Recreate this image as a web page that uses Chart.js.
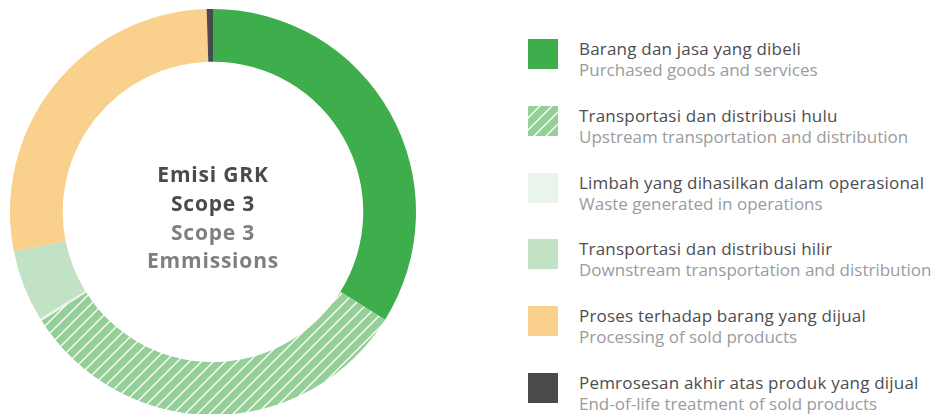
<!DOCTYPE html>
<html>
<head>
<meta charset="utf-8">
<script src="https://cdn.jsdelivr.net/npm/chart.js@4"></script>
<style>
  html, body { margin: 0; padding: 0; background: #fff; overflow: hidden; }
  body { width: 934px; height: 414px; position: relative; font-family: 'Open Sans', sans-serif; }
  #chartWrap { position: absolute; left: 0; top: -1px; width: 426px; height: 426px; }
  #legend { position: absolute; left: 528px; top: 0; }
  .row { position: absolute; left: 0; width: 406px; height: 60px; }
  .row canvas { position: absolute; left: 0; top: 0; }
  .txt { position: absolute; left: 51px; top: -1px; font-size: 17px; line-height: 21px; white-space: nowrap; }
  .l1 { color: #4d4d4f; letter-spacing: 0.2px; }
  .l2 { color: #9b9b9d; }
</style>
</head>
<body>
<div id="chartWrap"><canvas id="donut" width="426" height="426"></canvas></div>
<div id="legend"></div>
<script>
const labelsId = [
  'Barang dan jasa yang dibeli',
  'Transportasi dan distribusi hulu',
  'Limbah yang dihasilkan dalam operasional',
  'Transportasi dan distribusi hilir',
  'Proses terhadap barang yang dijual',
  'Pemrosesan akhir atas produk yang dijual'
];
const labelsEn = [
  'Purchased goods and services',
  'Upstream transportation and distribution',
  'Waste generated in operations',
  'Downstream transportation and distribution',
  'Processing of sold products',
  'End-of-life treatment of sold products'
];
const shares = [33.9, 32.1, 0.2, 5.7, 27.6, 0.5];
const colors = ['#3dae4b', '#94cf98', '#e9f4eb', '#c1e2c5', '#f9d08c', '#4a4a4c'];
const hatched = [false, true, false, false, false, false];
const centerLines = ['Emisi GRK', 'Scope 3', 'Scope 3', 'Emmissions'];
const centerColors = ['#4a4a4c', '#4a4a4c', '#7f7f82', '#7f7f82'];

function makeHatch(base) {
  const s = 12;
  const c = document.createElement('canvas');
  c.width = s; c.height = s;
  const g = c.getContext('2d');
  g.fillStyle = base;
  g.fillRect(0, 0, s, s);
  g.strokeStyle = '#ffffff';
  g.lineWidth = 1.3;
  g.beginPath();
  g.moveTo(-2, s + 2); g.lineTo(s + 2, -2);
  g.moveTo(-2, 2); g.lineTo(2, -2);
  g.moveTo(s - 2, s + 2); g.lineTo(s + 2, s - 2);
  g.stroke();
  return g.createPattern(c, 'repeat');
}

function fillFor(i) {
  return hatched[i] ? makeHatch(colors[i]) : colors[i];
}

const centerText = {
  id: 'centerText',
  afterDraw(chart) {
    const { ctx } = chart;
    const meta = chart.getDatasetMeta(0).data[0];
    const cx = meta.x, cy = meta.y;
    ctx.save();
    ctx.font = 'bold 21px "Open Sans", sans-serif';
    ctx.letterSpacing = '0.8px';
    ctx.textAlign = 'center';
    ctx.textBaseline = 'alphabetic';
    const base0 = cy - 30;
    centerLines.forEach((t, i) => {
      ctx.fillStyle = centerColors[i];
      ctx.fillText(t, cx, base0 + i * 28.8);
    });
    ctx.restore();
  }
};

const ctx = document.getElementById('donut').getContext('2d');
new Chart(ctx, {
  type: 'doughnut',
  data: {
    labels: labelsId,
    datasets: [{
      data: shares,
      backgroundColor: shares.map((_, i) => fillFor(i)),
      borderWidth: 0,
      hoverOffset: 0
    }]
  },
  options: {
    responsive: false,
    animation: false,
    cutout: '74%',
    layout: { padding: 10 },
    plugins: {
      legend: { display: false },
      tooltip: { enabled: false }
    }
  },
  plugins: [centerText]
});

// legend built from the same arrays
const legend = document.getElementById('legend');
labelsId.forEach((lab, i) => {
  const row = document.createElement('div');
  row.className = 'row';
  row.style.top = (39 + i * 66.8) + 'px';
  const sw = document.createElement('canvas');
  sw.width = 30; sw.height = 30;
  const sctx = sw.getContext('2d');
  sctx.fillStyle = fillFor(i);
  sctx.fillRect(0, 0, 30, 30);
  row.appendChild(sw);
  const txt = document.createElement('div');
  txt.className = 'txt';
  txt.innerHTML = '<div class="l1">' + lab + '</div><div class="l2">' + labelsEn[i] + '</div>';
  row.appendChild(txt);
  legend.appendChild(row);
});
</script>
</body>
</html>
